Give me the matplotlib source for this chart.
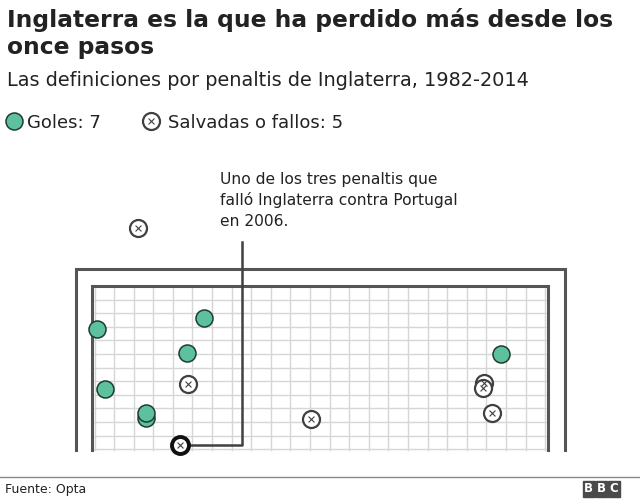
import numpy as np
import matplotlib.pyplot as plt
from matplotlib.patches import Rectangle

plt.rcParams['font.family'] = ['DejaVu Sans']

# shot positions (pixel space of the graphic, y grows downwards)
goal_x  = [96.7, 204.3, 187.3, 105.3, 146.0, 146.0, 500.7]
goal_y  = [329.3, 317.7, 353.3, 389.3, 418.3, 413.3, 353.7]
miss_x  = [137.7, 187.7, 311.0, 484.0, 483.3, 492.3]
miss_y  = [227.7, 384.3, 419.3, 383.3, 387.7, 412.7]
hl_x, hl_y = 180.0, 445.0          # highlighted miss (Portugal 2006)

n_goals  = 7
n_missed = 5

title_lines = ['Inglaterra es la que ha perdido más desde los', 'once pasos']
subtitle    = 'Las definiciones por penaltis de Inglaterra, 1982-2014'
note_lines  = ['Uno de los tres penaltis que', 'falló Inglaterra contra Portugal', 'en 2006.']

GREEN   = '#5ec19d'
DARK    = '#404040'
FRAME   = '#555555'
GRID    = '#d6d6d6'
TXT     = '#222222'

fig = plt.figure(figsize=(6.4, 5.01), dpi=100)
ax = fig.add_axes([0, 0, 1, 1])
ax.set_xlim(0, 640)
ax.set_ylim(501, 0)
ax.axis('off')

# goal grid
gx0, gx1, gy0, gy1 = 92, 548, 286, 450
for x in np.arange(94.5, gx1, 19.6):
    ax.plot([x, x], [gy0, gy1], color=GRID, lw=1, zorder=1)
for y in np.arange(gy0 + 13.6, gy1, 13.6):
    ax.plot([gx0, gx1], [y, y], color=GRID, lw=1, zorder=1)

# inner and outer frame
ax.plot([gx0, gx0, gx1, gx1], [gy1, gy0, gy0, gy1], color=FRAME, lw=2.2, zorder=2,
        solid_joinstyle='miter')
ax.plot([76, 76, 564.5, 564.5], [gy1, 268.5, 268.5, gy1], color=FRAME, lw=2.2, zorder=2,
        solid_joinstyle='miter')

# annotation connector
ax.plot([hl_x + 8, 242.3, 242.3], [hl_y, hl_y, 241.5], color=DARK, lw=1.8, zorder=3)
for i, line in enumerate(note_lines):
    ax.text(220, 184.3 + i * 20.7, line, fontsize=11.2, color=TXT, va='baseline', ha='left')

S = 150
ax.scatter(goal_x, goal_y, s=S, c=GREEN, edgecolors='#1d3b30', linewidths=1.1, zorder=4)
ax.scatter(miss_x, miss_y, s=S, c='white', edgecolors=DARK, linewidths=1.6, zorder=4)
ax.scatter(miss_x, miss_y, s=18, marker='x', c=DARK, linewidths=0.8, zorder=5)
ax.scatter([hl_x], [hl_y], s=S, c='white', edgecolors='#111111', linewidths=2.8, zorder=4)
ax.scatter([hl_x], [hl_y], s=18, marker='x', c=DARK, linewidths=0.8, zorder=5)

# titles
for i, line in enumerate(title_lines):
    ax.text(7, 26.7 + i * 27, line, fontsize=16.85, fontweight='bold', color=TXT,
            va='baseline', ha='left')
ax.text(7, 86, subtitle, fontsize=13.9, color=TXT, va='baseline', ha='left')

# legend
ax.scatter([14], [121], s=S, c=GREEN, edgecolors='#1d3b30', linewidths=1.1)
ax.text(27, 128.3, f'Goles: {n_goals}', fontsize=13, color=TXT, va='baseline')
ax.scatter([151], [121], s=S, c='white', edgecolors=DARK, linewidths=1.6)
ax.scatter([151], [121], s=18, marker='x', c=DARK, linewidths=0.8)
ax.text(168, 128.3, f'Salvadas o fallos: {n_missed}', fontsize=13, color=TXT, va='baseline')

# footer
ax.plot([0, 640], [477, 477], color='#888888', lw=1)
ax.text(5, 493, 'Fuente: Opta', fontsize=9, color=TXT, va='baseline')
for i, letter in enumerate('BBC'):
    x0 = 583 + i * 12.7
    ax.add_patch(Rectangle((x0, 481), 11.5, 15.5, color='#4a4a4a'))
    ax.text(x0 + 5.75, 489, letter, fontsize=8.5, color='white', ha='center', va='center',
            fontweight='bold')

fig.savefig('out.png', dpi=100)
